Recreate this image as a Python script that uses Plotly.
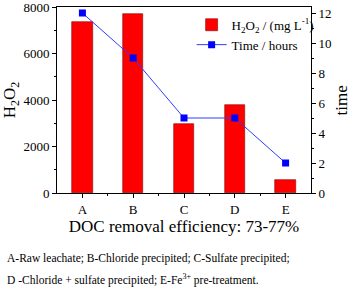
import plotly.graph_objects as go

categories = ["A", "B", "C", "D", "E"]
h2o2 = [7350, 7720, 2950, 3770, 560]
time_hours = [12, 9, 5, 5, 2]
left_ticks = [0, 2000, 4000, 6000, 8000]
right_ticks = [0, 2, 4, 6, 8, 10, 12]

xs = list(range(len(categories)))
FONT = "'Liberation Serif', 'Times New Roman', Times, serif"

fig = go.Figure()
fig.add_trace(go.Bar(
    x=xs, y=h2o2, width=0.4, name="H<sub>2</sub>O<sub>2</sub> / (mg L<sup>-1</sup>)",
    marker=dict(color="#ff0000", line=dict(color="#8b0000", width=0.6)),
    yaxis="y",
))
fig.add_trace(go.Scatter(
    x=xs, y=time_hours, name="Time / hours", mode="lines+markers",
    line=dict(color="#2f3cff", width=1),
    marker=dict(symbol="square", size=7, color="#0000ff"),
    yaxis="y2",
))

fig.update_layout(
    width=350, height=287,
    margin=dict(l=57, r=39, t=7, b=94, autoexpand=False),
    paper_bgcolor="white", plot_bgcolor="white",
    font=dict(family=FONT, size=12, color="black"),
    showlegend=True,
    legend=dict(x=0.53, y=0.985, xanchor="left", yanchor="top",
                bgcolor="rgba(0,0,0,0)", font=dict(size=13, family=FONT),
                itemwidth=30, tracegroupgap=0),
    xaxis=dict(
        range=[-0.5, 4.5], tickvals=xs, ticktext=categories, automargin=False,
        ticks="outside", ticklen=4, tickwidth=1, tickcolor="black",
        showline=True, linecolor="black", linewidth=1, mirror=True,
        showgrid=False, zeroline=False, ticklabeloverflow="allow",
        tickfont=dict(size=13, family=FONT),
        minor=dict(tickvals=[0.5, 1.5, 2.5, 3.5], ticks="outside", ticklen=2, tickcolor="black"),
        title=dict(text="DOC removal efficiency: 73-77%", font=dict(size=17, family=FONT), standoff=2),
    ),
    yaxis=dict(
        range=[0, 8000], tickvals=left_ticks, automargin=False,
        ticks="outside", ticklen=4, tickwidth=1, tickcolor="black",
        showline=True, linecolor="black", linewidth=1,
        showgrid=False, zeroline=False, ticklabeloverflow="allow",
        tickfont=dict(size=13, family=FONT),
        minor=dict(dtick=1000, ticks="outside", ticklen=2, tickcolor="black"),
        title=dict(text="H<sub>2</sub>O<sub>2</sub>", font=dict(size=17, family=FONT), standoff=4),
    ),
    yaxis2=dict(
        overlaying="y", side="right", range=[0, 12.4], tickvals=right_ticks, automargin=False,
        ticks="outside", ticklen=4, tickwidth=1, tickcolor="black",
        showline=True, linecolor="black", linewidth=1,
        showgrid=False, zeroline=False, ticklabeloverflow="allow",
        tickfont=dict(size=13, family=FONT),
        minor=dict(dtick=1, ticks="outside", ticklen=2, tickcolor="black"),
    ),
    bargap=0,
)

fig.add_annotation(
    text="time", textangle=-90,
    xref="paper", yref="paper", x=1.12, y=0.5, xanchor="center", yanchor="middle",
    showarrow=False, font=dict(size=17, family=FONT),
)
fig.add_annotation(
    text="A-Raw leachate; B-Chloride precipited; C-Sulfate precipited;",
    xref="paper", yref="paper", x=-0.205, y=-0.35, xanchor="left", yanchor="middle",
    showarrow=False, font=dict(size=11.5, family=FONT),
)
fig.add_annotation(
    text="D -Chloride + sulfate precipited; E-Fe<sup>3+</sup> pre-treatment.",
    xref="paper", yref="paper", x=-0.205, y=-0.465, xanchor="left", yanchor="middle",
    showarrow=False, font=dict(size=11.5, family=FONT),
)

fig.write_html("out.html", config={"displayModeBar": False},
               post_script="document.body.style.margin='0';document.body.style.overflow='hidden';")
